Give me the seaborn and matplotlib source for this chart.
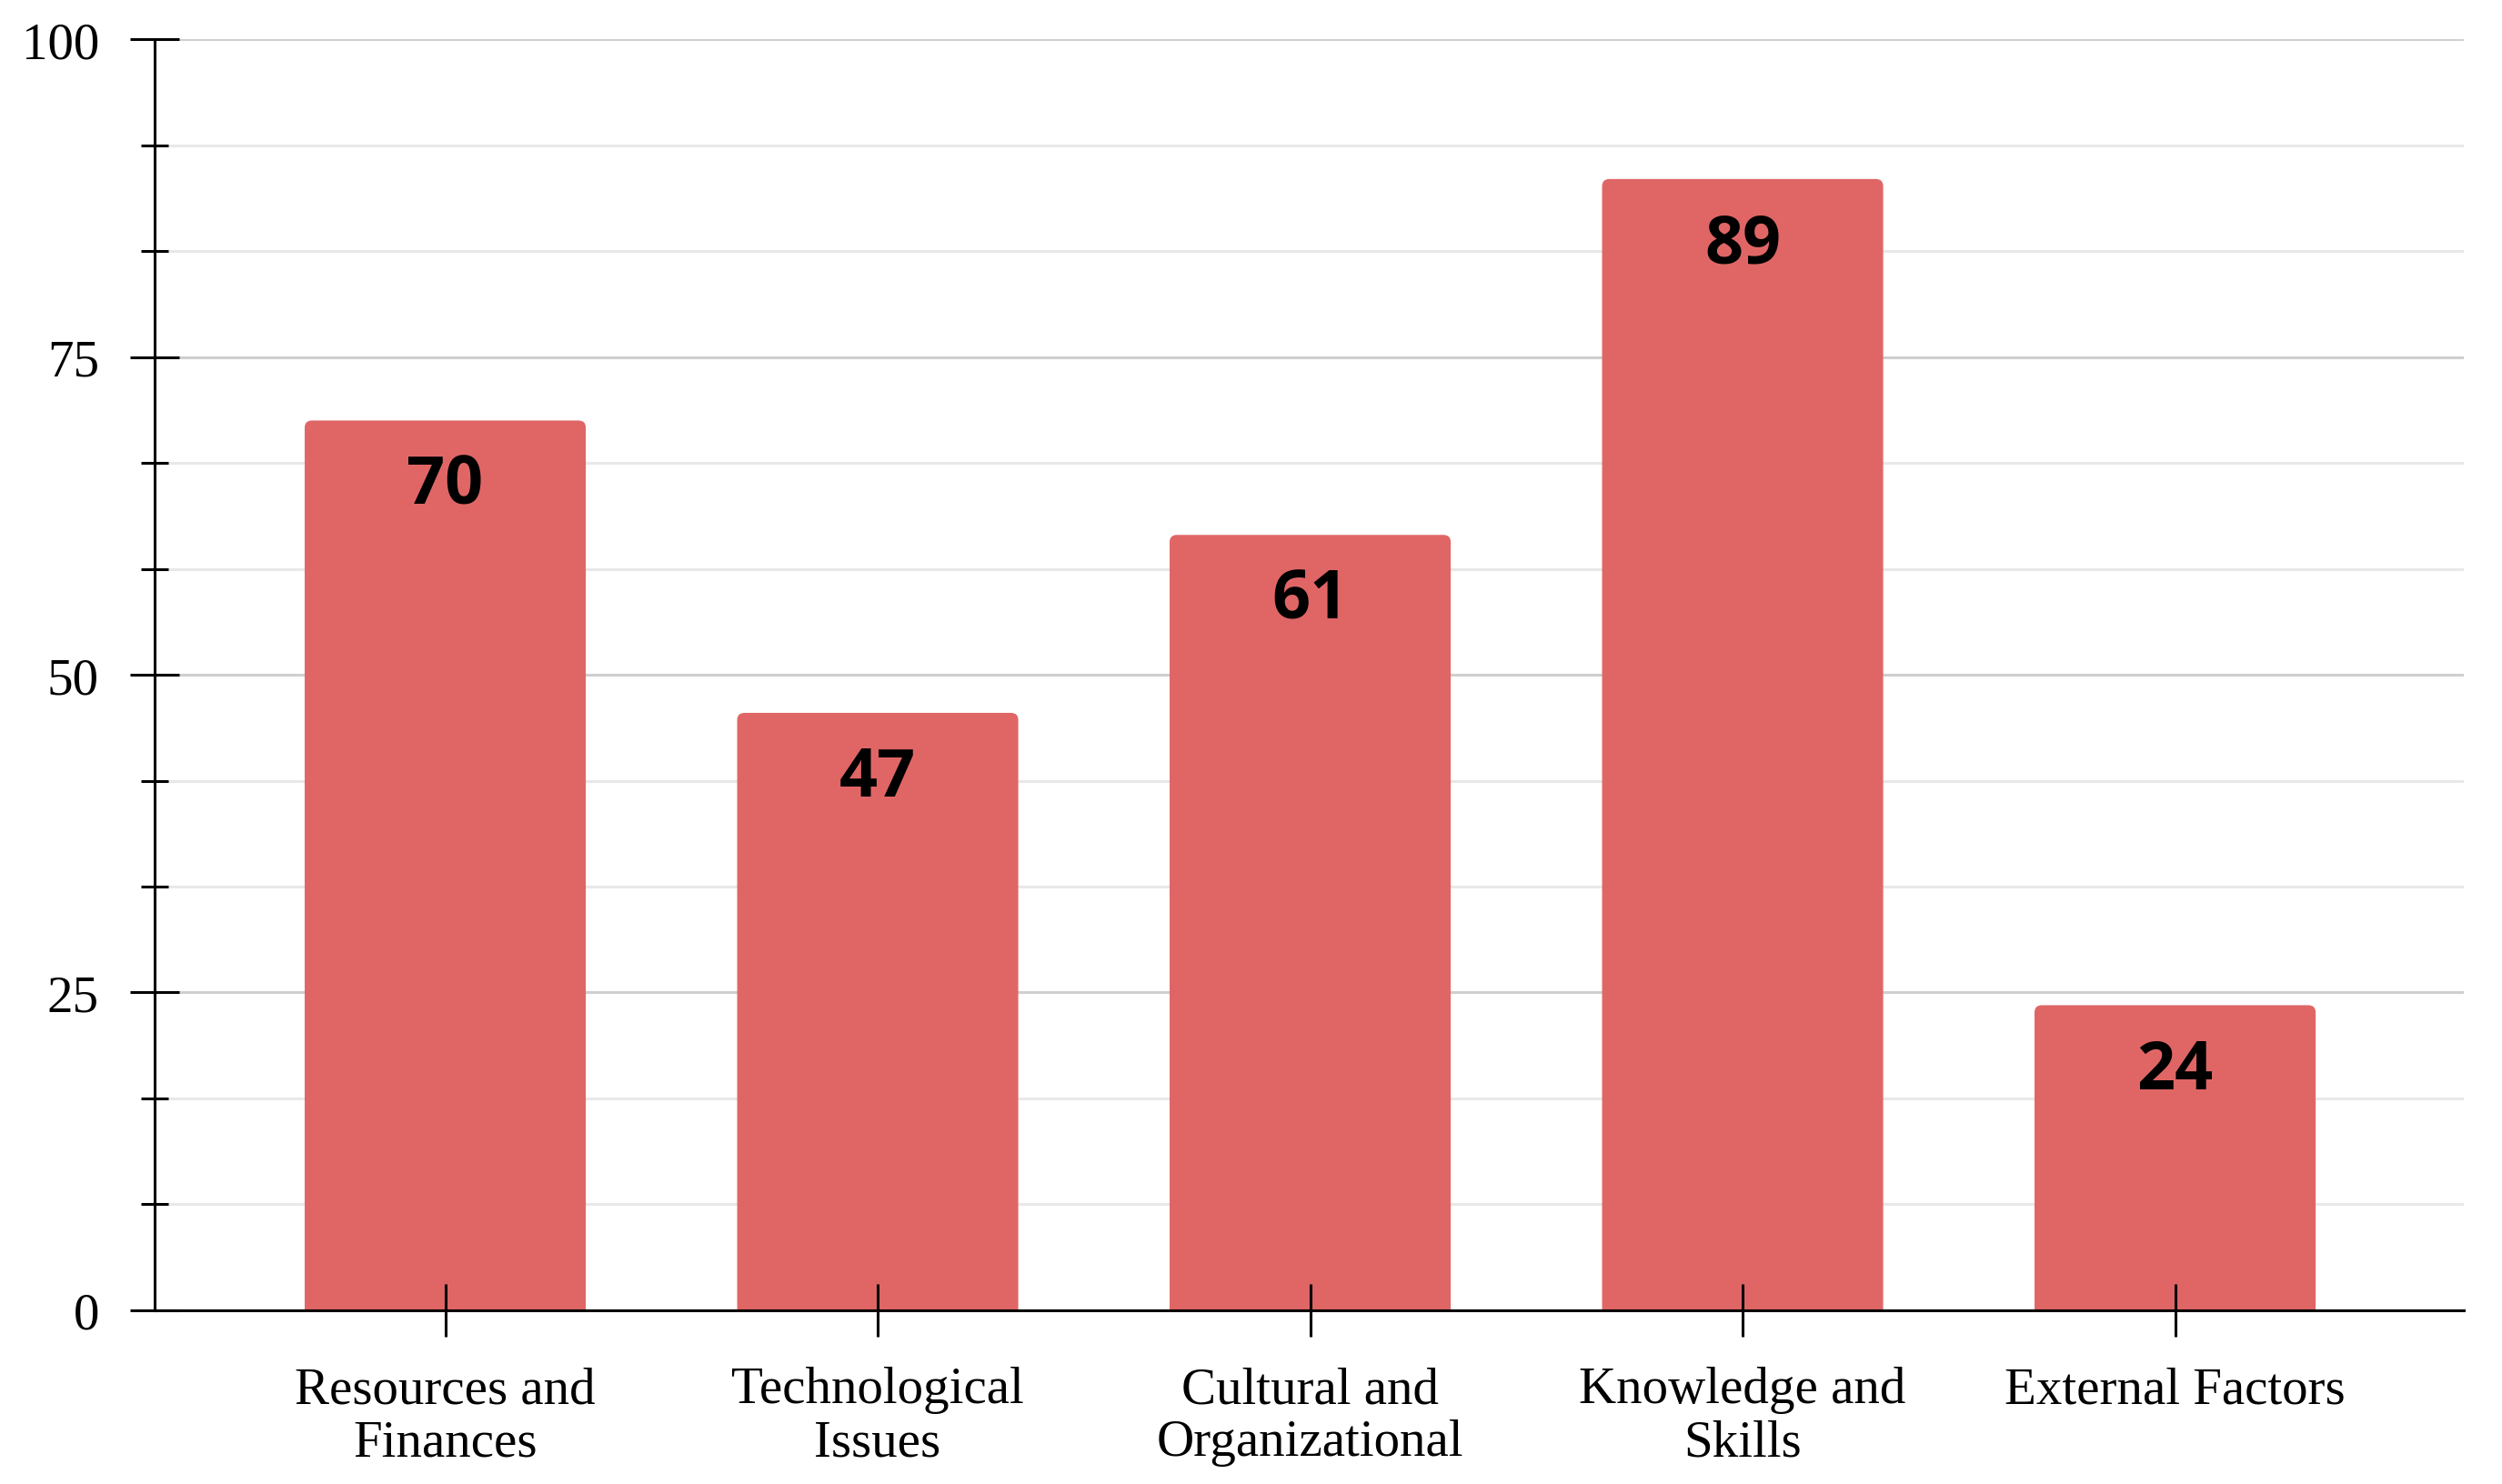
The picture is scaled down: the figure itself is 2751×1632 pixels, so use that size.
import pandas as pd
import seaborn as sns
import matplotlib.pyplot as plt
from matplotlib.ticker import MultipleLocator
from matplotlib.patches import FancyBboxPatch

# data
categories = ['Resources and\nFinances', 'Technological\nIssues', 'Cultural and\nOrganizational',
              'Knowledge and\nSkills', 'External Factors']
counts = [70, 47, 61, 89, 24]

df = pd.DataFrame({'Category': categories, 'Count': counts})

sns.set_style("white")
plt.rcParams['font.family'] = ['Liberation Serif', 'DejaVu Serif']

fig = plt.figure(figsize=(27.51, 16.33), dpi=100)
ax = fig.add_axes([0.0618, 0.117, 0.923, 0.856])

sns.barplot(data=df, x='Category', y='Count', color='#E06666', saturation=1,
            width=0.65, ax=ax, zorder=2)

# swap the plain bars for ones with slightly rounded tops
for p in list(ax.patches):
    x, w, h = p.get_x(), p.get_width(), p.get_height()
    rb = FancyBboxPatch((x, -2), w, h + 2, boxstyle="round,pad=0,rounding_size=0.017",
                        mutation_aspect=33, facecolor='#E06666', edgecolor='none', zorder=2)
    p.remove()
    ax.add_patch(rb)

ax.set_ylim(0, 100)
ax.set_xlim(-0.672, 4.668)
ax.yaxis.set_major_locator(MultipleLocator(25))
ax.yaxis.set_minor_locator(MultipleLocator(100 / 12))

# gridlines drawn behind the bars, ticks stay on top
ax.set_axisbelow(False)
for t in ax.yaxis.get_minorticklocs():
    ax.axhline(t, color='#e8e8e8', linewidth=2.2, zorder=0)
for t in ax.yaxis.get_majorticklocs():
    if t > 0:
        ax.axhline(t, color='#cfcfcf', linewidth=2.2, zorder=0)

for side in ['top', 'right']:
    ax.spines[side].set_visible(False)
for side in ['left', 'bottom']:
    ax.spines[side].set_color('black')
    ax.spines[side].set_linewidth(2.2)
    ax.spines[side].set_zorder(3)

ax.tick_params(axis='y', which='both', left=True)
ax.tick_params(axis='x', which='major', bottom=True)
ax.tick_params(axis='y', which='major', direction='inout', length=39, width=2.2,
               pad=24.5, labelsize=41, color='black', labelcolor='black')
ax.tick_params(axis='y', which='minor', direction='inout', length=21, width=2.2, color='black')
ax.tick_params(axis='x', which='major', direction='inout', length=42, width=2.2,
               pad=23, labelsize=41, color='black', labelcolor='black')
for lbl in ax.get_xticklabels():
    lbl.set_linespacing(1.15)

ax.set_xlabel('')
ax.set_ylabel('')

# value labels inside the bars
for i, v in enumerate(counts):
    ax.annotate(str(v), xy=(i, v), xytext=(0, -52), textcoords='offset points',
                ha='center', va='center', fontsize=53, fontweight='bold',
                family=['Open Sans', 'DejaVu Sans'], color='black', zorder=4)

fig.savefig('out.png', dpi=100, facecolor='white')
